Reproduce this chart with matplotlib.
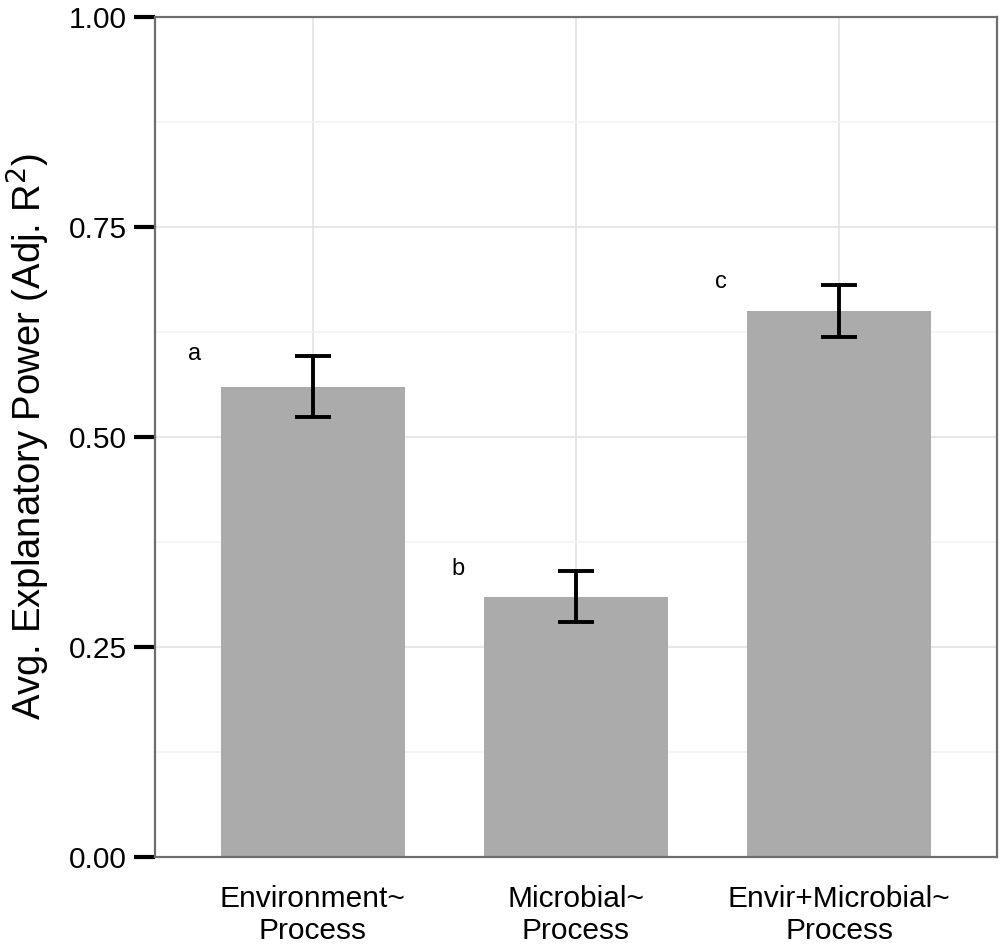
import matplotlib
matplotlib.use("Agg")
import matplotlib.pyplot as plt

# data
categories = ["Environment~\nProcess", "Microbial~\nProcess", "Envir+Microbial~\nProcess"]
means = [0.56, 0.31, 0.65]
lower = [0.524, 0.280, 0.619]
upper = [0.596, 0.340, 0.681]
letters = ["a", "b", "c"]
yticks = [0.0, 0.25, 0.5, 0.75, 1.0]
yticklabels = ["0.00", "0.25", "0.50", "0.75", "1.00"]
yminor = [0.125, 0.375, 0.625, 0.875]

plt.rcParams['font.family'] = ['Liberation Sans', 'DejaVu Sans']

fig = plt.figure(figsize=(10, 9.5), dpi=100)
ax = fig.add_axes([0.155, 0.098, 0.842, 0.884])

x = list(range(1, len(categories) + 1))
ax.bar(x, means, width=0.7, color="#ababab", zorder=2)
err_lo = [m - l for m, l in zip(means, lower)]
err_hi = [u - m for m, u in zip(means, upper)]
ax.errorbar(x, means, yerr=[err_lo, err_hi], fmt="none", ecolor="black",
            elinewidth=2.8, capsize=13, capthick=2.8, zorder=3)

for xi, u, lab in zip(x, upper, letters):
    ax.text(xi - 0.45, u + 0.003, lab, ha="center", va="center", fontsize=17)

ax.set_xlim(0.4, 3.6)
ax.set_ylim(0, 1.0)
ax.set_xticks(x)
ax.set_xticklabels(categories, fontsize=21.5, linespacing=1.2)
ax.set_yticks(yticks)
ax.set_yticklabels(yticklabels)
ax.set_yticks(yminor, minor=True)
ax.tick_params(axis="y", which="major", length=15, width=3, color="black",
               labelsize=21.5, pad=5)
ax.tick_params(axis="y", which="minor", length=0)
ax.tick_params(axis="x", length=0, pad=20)

ax.grid(True, which="major", color="#e3e3e3", linewidth=1.2, zorder=0)
ax.grid(True, which="minor", axis="y", color="#f3f3f3", linewidth=1.2, zorder=0)
ax.set_axisbelow(True)

for s in ax.spines.values():
    s.set_color("#6e6e6e")
    s.set_linewidth(1.6)

ax.set_ylabel(r"Avg. Explanatory Power (Adj. R$^2$)", fontsize=27.5, labelpad=12)

fig.savefig("out.png", dpi=100)
